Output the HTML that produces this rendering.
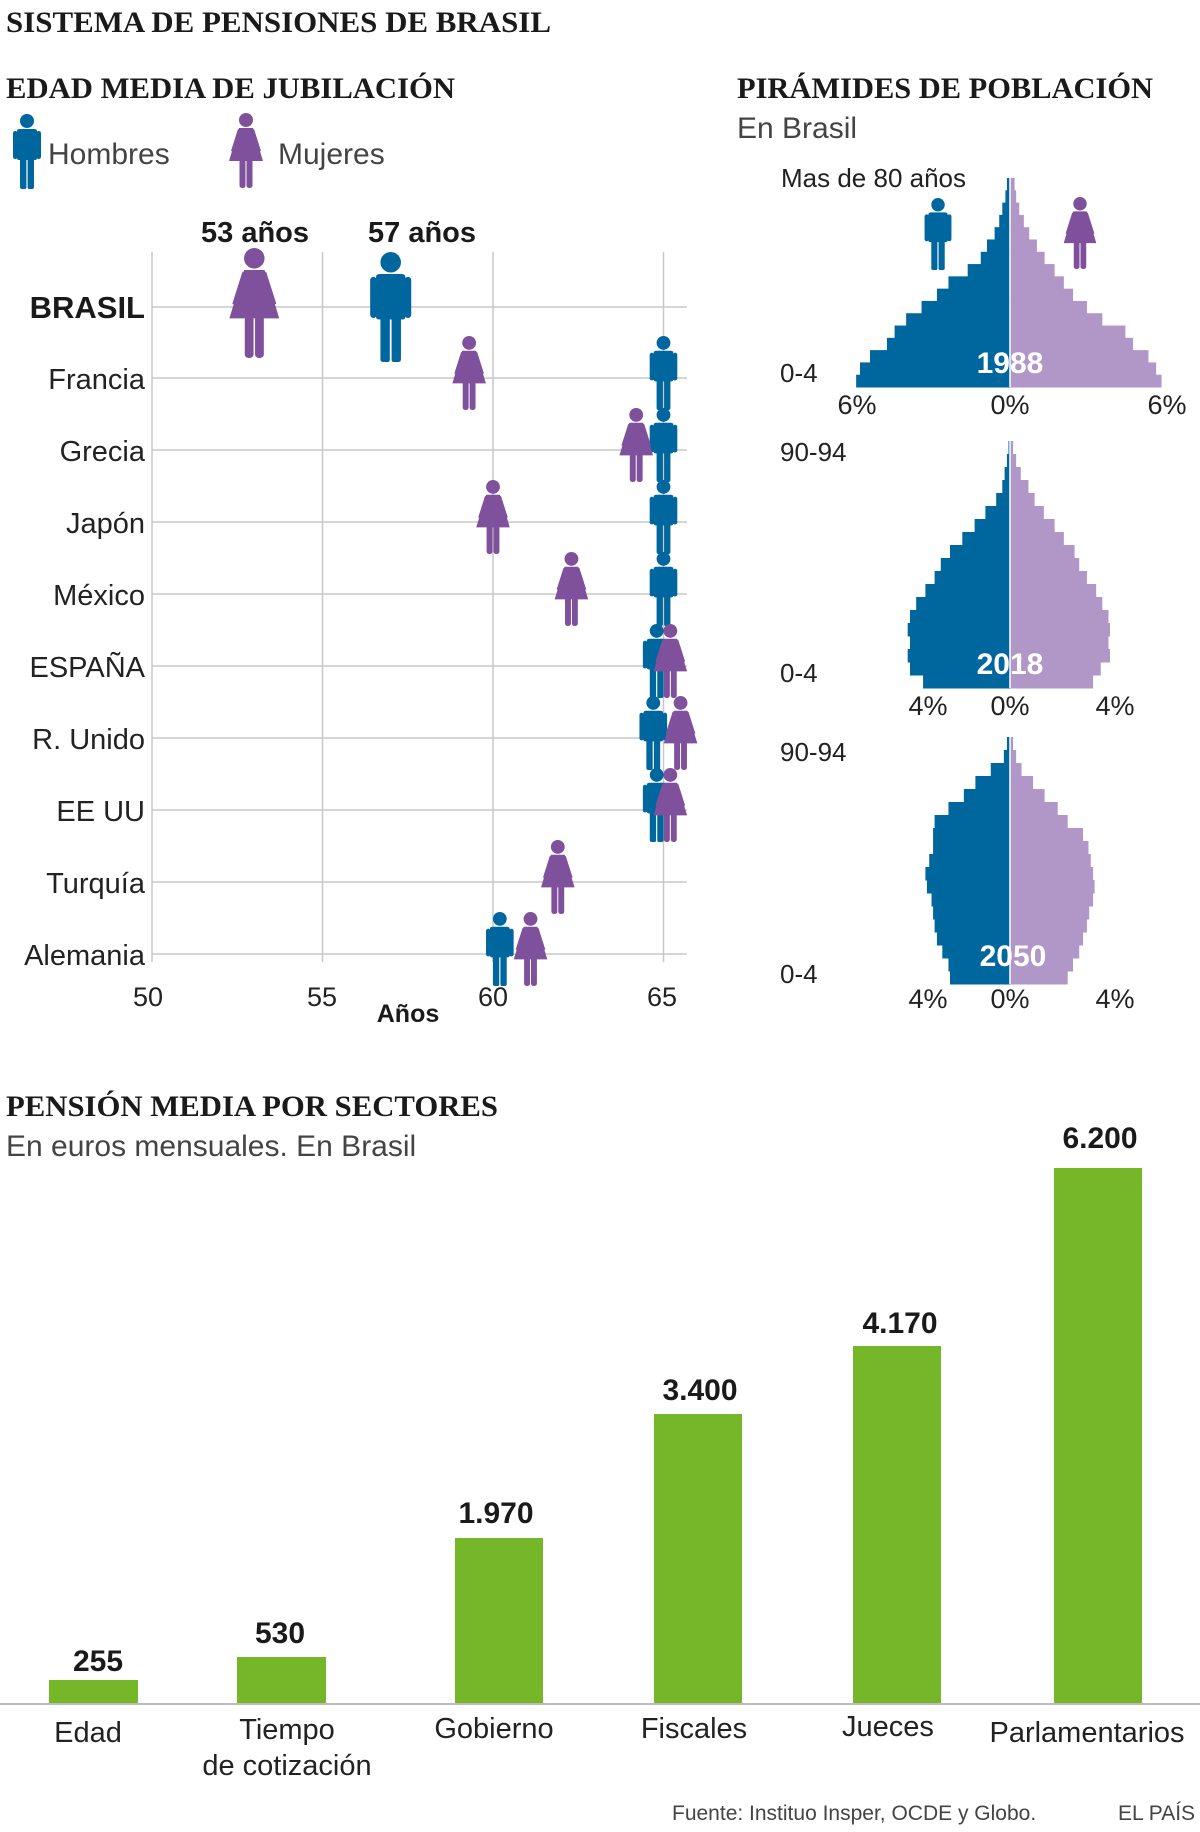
<!DOCTYPE html>
<html><head><meta charset="utf-8">
<style>
html,body{margin:0;padding:0;background:#fff;}
svg{display:block;}
.s{font-family:"Liberation Sans Narrow","Liberation Sans",sans-serif;fill:#222;}
.h{font-family:"Liberation Serif",serif;font-weight:bold;fill:#1a1a1a;}
</style></head>
<body>
<svg id="c" width="1200" height="1832" viewBox="0 0 1200 1832" xmlns="http://www.w3.org/2000/svg">
<defs>
<g id="man">
<circle cx="14" cy="7" r="7"/>
<path d="M4 17 Q4 15 7 15 L21 15 Q24 15 24 17 L24 44 Q24 46 22 46 L21 46 L21 73 Q21 75 19 75 L16 75 Q14.6 75 14.6 73 L14.6 46 L13.4 46 L13.4 73 Q13.4 75 12 75 L9 75 Q7 75 7 73 L7 46 L6 46 Q4 46 4 44 Z"/>
<rect x="0" y="17" width="4.5" height="28" rx="2.2"/>
<rect x="23.5" y="17" width="4.5" height="28" rx="2.2"/>
</g>
<g id="woman">
<circle cx="15" cy="7" r="7"/>
<path d="M8 15 L22 15 L32 48 L-2 48 Z"/>
<path d="M7 16 L0 38 L3.5 39 L11 20 Z"/>
<path d="M23 16 L30 38 L26.5 39 L19 20 Z"/>
<rect x="8.5" y="46" width="6" height="29" rx="2.5"/>
<rect x="15.5" y="46" width="6" height="29" rx="2.5"/>
</g>
</defs>

<text class="h" x="6" y="32" font-size="30" textLength="545" lengthAdjust="spacingAndGlyphs">SISTEMA DE PENSIONES DE BRASIL</text>
<text class="h" x="6" y="98" font-size="30" textLength="449" lengthAdjust="spacingAndGlyphs">EDAD MEDIA DE JUBILACIÓN</text>
<text class="h" x="737" y="98" font-size="30" textLength="416" lengthAdjust="spacingAndGlyphs">PIRÁMIDES DE POBLACIÓN</text>
<text class="s" x="737" y="138" font-size="30" style="fill:#444">En Brasil</text>

<use href="#man" x="13" y="114" fill="#00679e"/>
<text class="s" x="48" y="164" font-size="30" style="fill:#444">Hombres</text>
<use href="#woman" x="231" y="113" fill="#7f519c"/>
<text class="s" x="278" y="164" font-size="30" style="fill:#444">Mujeres</text>

<g id="grid" stroke="#c8c8c8" stroke-width="1.5"></g>

<text class="s" x="255" y="242" font-size="29" font-weight="bold" text-anchor="middle" style="fill:#1a1a1a">53 años</text>
<text class="s" x="422" y="242" font-size="29" font-weight="bold" text-anchor="middle" style="fill:#1a1a1a">57 años</text>

<g font-size="29" text-anchor="end">
<text class="s" x="145" y="318" font-weight="bold" font-size="31" style="fill:#1a1a1a">BRASIL</text>
<text class="s" x="145" y="389">Francia</text>
<text class="s" x="145" y="461">Grecia</text>
<text class="s" x="145" y="533">Japón</text>
<text class="s" x="145" y="605">México</text>
<text class="s" x="145" y="677">ESPAÑA</text>
<text class="s" x="145" y="749">R. Unido</text>
<text class="s" x="145" y="821">EE UU</text>
<text class="s" x="145" y="893">Turquía</text>
<text class="s" x="145" y="965">Alemania</text>
</g>
<g font-size="27" text-anchor="middle">
<text class="s" x="148" y="1006">50</text>
<text class="s" x="322" y="1006">55</text>
<text class="s" x="493" y="1006">60</text>
<text class="s" x="662" y="1006">65</text>
<text class="s" x="408" y="1022" font-weight="bold" font-size="25" style="fill:#1a1a1a">Años</text>
</g>
<g id="icons"></g>

<g id="pyr"></g>
<g font-size="26" class="s">
<text class="s" x="781" y="187">Mas de 80 años</text>
<text class="s" x="780" y="382">0-4</text>
<text class="s" x="780" y="461">90-94</text>
<text class="s" x="780" y="682">0-4</text>
<text class="s" x="780" y="761">90-94</text>
<text class="s" x="780" y="983">0-4</text>
</g>
<g font-size="27" text-anchor="middle" class="s">
<text class="s" x="857" y="414">6%</text>
<text class="s" x="1010" y="414">0%</text>
<text class="s" x="1167" y="414">6%</text>
<text class="s" x="928" y="715">4%</text>
<text class="s" x="1010" y="715">0%</text>
<text class="s" x="1115" y="715">4%</text>
<text class="s" x="928" y="1008">4%</text>
<text class="s" x="1010" y="1008">0%</text>
<text class="s" x="1115" y="1008">4%</text>
</g>
<g font-size="30" font-weight="bold" text-anchor="middle">
<text class="s" x="1010" y="373" style="fill:#fff">1988</text>
<text class="s" x="1010" y="674" style="fill:#fff">2018</text>
<text class="s" x="1013" y="966" style="fill:#fff">2050</text>
</g>

<text class="h" x="6" y="1116" font-size="30" textLength="492" lengthAdjust="spacingAndGlyphs">PENSIÓN MEDIA POR SECTORES</text>
<text class="s" x="6" y="1156" font-size="30" style="fill:#444">En euros mensuales. En Brasil</text>

<g fill="#76b72a">
<rect x="49" y="1680" width="89" height="23"/>
<rect x="237" y="1657" width="89" height="46"/>
<rect x="455" y="1538" width="88" height="165"/>
<rect x="654" y="1414" width="88" height="289"/>
<rect x="853" y="1346" width="88" height="357"/>
<rect x="1054" y="1168" width="88" height="535"/>
</g>
<line x1="0" y1="1704" x2="1200" y2="1704" stroke="#bbb" stroke-width="2"/>
<g font-size="30" font-weight="bold" text-anchor="middle">
<text class="s" x="98" y="1671" style="fill:#1a1a1a">255</text>
<text class="s" x="280" y="1643" style="fill:#1a1a1a">530</text>
<text class="s" x="496" y="1523" style="fill:#1a1a1a">1.970</text>
<text class="s" x="700" y="1400" style="fill:#1a1a1a">3.400</text>
<text class="s" x="900" y="1333" style="fill:#1a1a1a">4.170</text>
<text class="s" x="1100" y="1148" style="fill:#1a1a1a">6.200</text>
</g>
<g font-size="29" text-anchor="middle">
<text class="s" x="88" y="1742">Edad</text>
<text class="s" x="287" y="1739">Tiempo</text>
<text class="s" x="287" y="1775">de cotización</text>
<text class="s" x="494" y="1738">Gobierno</text>
<text class="s" x="694" y="1738">Fiscales</text>
<text class="s" x="888" y="1736">Jueces</text>
<text class="s" x="1087" y="1742">Parlamentarios</text>
</g>
<text class="s" x="672" y="1820" font-size="21" style="fill:#444">Fuente: Instituo Insper, OCDE y Globo.</text>
<text class="s" x="1118" y="1820" font-size="21" style="fill:#444">EL PAÍS</text>
</svg>
<script>
var NS="http://www.w3.org/2000/svg";
function el(p,t,a){var e=document.createElementNS(NS,t);for(var k in a)e.setAttribute(k,a[k]);p.appendChild(e);return e;}
var X=function(v){return 152+(v-50)*34.1;};
var g=document.getElementById('grid');
[50,55,60,65].forEach(function(v){el(g,'line',{x1:X(v),y1:252,x2:X(v),y2:962});});
var rows=[307,378,450,522,594,666,738,810,882,954];
rows.forEach(function(y){el(g,'line',{x1:152,y1:y,x2:687,y2:y});});
var ic=document.getElementById('icons');
var B='#00679e',P='#7f519c';
function icon(type,cx,top,h,col){var s=h/75;var w=(type=='man'?28:30)*s;
 el(ic,'use',{href:'#'+type,transform:'translate('+(cx-w/2)+','+top+') scale('+s+')',fill:col});}
icon('woman',X(53),248,110,P);
icon('man',X(57),252,110,B);
var d=[[59.3,65],[64.2,65],[60,65],[62.3,65],[65.2,64.8],[65.5,64.7],[65.2,64.8],[61.9,null],[61.1,60.2]];
d.forEach(function(r,i){var y=rows[i+1]-42;
 if(r[1]!=null)icon('man',X(r[1]),y,74,B); icon('woman',X(r[0]),y,74,P);});
icon('man',938,198,72,B);icon('woman',1080,197,72,P);
var pg=document.getElementById('pyr');var C=1010;
function pyr(top,bot,m,f){var n=m.length,h=(bot-top)/n;
 for(var i=0;i<n;i++){var y=bot-(i+1)*h;
  el(pg,'rect',{x:C-m[i]/1.3,y:y,width:m[i]/1.3,height:h+0.5,fill:B});
  el(pg,'rect',{x:C,y:y,width:f[i]/1.3,height:h+0.5,fill:'#b197c8'});}
 el(pg,'line',{x1:C,y1:top,x2:C,y2:bot,stroke:'#fff','stroke-width':1.5});}
pyr(178,387,[200,195,182,160,150,135,115,95,80,55,38,30,20,14,10,6,4],[197,190,180,160,150,120,100,82,70,58,45,35,25,18,12,8,6]);
pyr(441,688,[113,130,133,130,133,130,122,110,98,90,78,62,46,32,18,10,7,4,2],[108,118,130,128,130,128,120,112,100,90,84,70,58,44,32,24,14,8,4]);
pyr(737,984,[78,80,88,95,98,100,102,108,110,105,100,100,98,80,60,45,25,8,4],[75,82,90,95,100,103,108,110,108,105,102,95,75,62,45,30,15,8,4]);
var svg=document.getElementById('c');svg.insertBefore(pg,svg.children[1]);
</script>
</body></html>
